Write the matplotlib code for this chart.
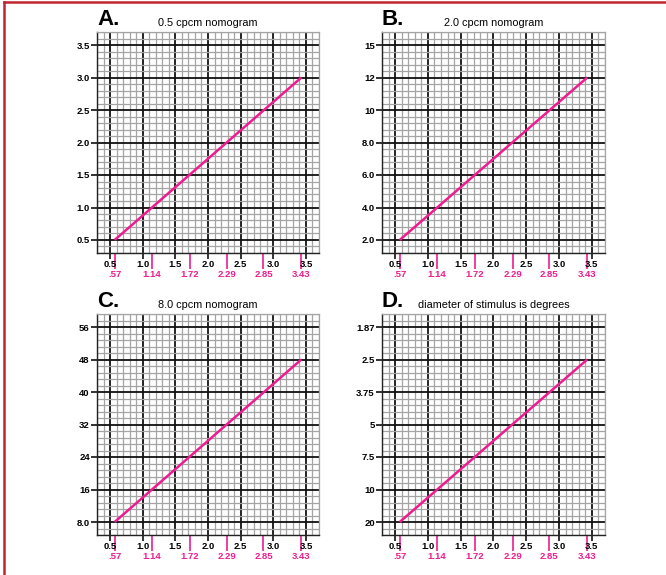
import matplotlib.pyplot as plt
import numpy as np
from matplotlib.lines import Line2D

plt.rcParams['font.family'] = ['Liberation Sans', 'DejaVu Sans']

# shared x axis (black scale and the pink scale under it)
x_ticks = [0.5, 1.0, 1.5, 2.0, 2.5, 3.0, 3.5]
x_labels = ['0.5', '1.0', '1.5', '2.0', '2.5', '3.0', '3.5']
pink_ticks = [0.57, 1.14, 1.72, 2.29, 2.85, 3.43]
pink_labels = ['.57', '1.14', '1.72', '2.29', '2.85', '3.43']

# panel letters and titles
letters = ['A.', 'B.', 'C.', 'D.']
titles = ['0.5 cpcm nomogram', '2.0 cpcm nomogram',
          '8.0 cpcm nomogram', 'diameter of stimulus is degrees']

# y scales of each panel
a_yticks = [0.5, 1.0, 1.5, 2.0, 2.5, 3.0, 3.5]
a_ylabels = ['0.5', '1.0', '1.5', '2.0', '2.5', '3.0', '3.5']
b_yticks = [2, 4, 6, 8, 10, 12, 14]
b_ylabels = ['2.0', '4.0', '6.0', '8.0', '10', '12', '15']
c_yticks = [8, 16, 24, 32, 40, 48, 56]
c_ylabels = ['8.0', '16', '24', '32', '40', '48', '56']
d_yticks = [0, 1, 2, 3, 4, 5, 6]
d_ylabels = ['20', '10', '7.5', '5', '3.75', '2.5', '1.87']

# nomogram lines: x from .57 to 3.43
line_x = [0.57, 3.43]
a_line = [0.5, 3.0]
b_line = [2, 12]
c_line = [8, 48]
d_line = [0, 5]   # from "20" to "2.5"

PINK = '#ee1c8e'

W, H = 666, 575
fig = plt.figure(figsize=(W / 100, H / 100), dpi=100)

# red frame, cut off on the right and bottom
fig.add_artist(Line2D([4 / W, 4 / W], [0, 1 - 2 / H], color='#c0262f', lw=1.8))
fig.add_artist(Line2D([4 / W, 1], [1 - 2 / H, 1 - 2 / H], color='#c0262f', lw=1.8))

# pixel boxes (left, right, top, bottom)
boxes = [(97, 319, 32, 253), (382, 605, 32, 253),
         (97, 319, 314, 535), (382, 605, 314, 535)]
yticks_all = [a_yticks, b_yticks, c_yticks, d_yticks]
ylabels_all = [a_ylabels, b_ylabels, c_ylabels, d_ylabels]
lines_all = [a_line, b_line, c_line, d_line]

for i in range(4):
    l, r, t, b = boxes[i]
    ax = fig.add_axes([l / W, 1 - b / H, (r - l) / W, (b - t) / H])
    yt = yticks_all[i]
    step = yt[1] - yt[0]
    ax.set_xlim(0.3, 3.7)
    ax.set_ylim(yt[0] - 0.4 * step, yt[-1] + 0.4 * step)

    ax.set_xticks(x_ticks, x_labels)
    ax.set_xticks(np.arange(0.3, 3.71, 0.1), minor=True)
    ax.set_yticks(yt, ylabels_all[i])
    ax.set_yticks(np.arange(yt[0] - 0.4 * step, yt[-1] + 0.41 * step, 0.2 * step), minor=True)

    ax.grid(which='minor', color='#a4a4a4', lw=0.9)
    ax.grid(which='major', color='#111111', lw=1.3)
    ax.set_axisbelow(True)
    ax.tick_params(which='minor', length=0)
    ax.tick_params(which='major', length=4, width=1.2, pad=1.2, labelsize=6.8, color='#111111')
    for lab in ax.get_xticklabels() + ax.get_yticklabels():
        lab.set_fontweight('bold')
    for s in ['top', 'right']:
        ax.spines[s].set_color('#a4a4a4')
        ax.spines[s].set_linewidth(0.9)
    for s in ['left', 'bottom']:
        ax.spines[s].set_color('#222222')
        ax.spines[s].set_linewidth(1.0)

    ax.plot(line_x, lines_all[i], color=PINK, lw=1.8, zorder=5, solid_capstyle='butt')

    sec = ax.secondary_xaxis('bottom')
    sec.set_xticks(pink_ticks, pink_labels)
    sec.tick_params(length=11.5, width=1.2, color=PINK, labelcolor=PINK, labelsize=6.8, pad=0.8)
    sec.spines['bottom'].set_visible(False)
    for lab in sec.get_xticklabels():
        lab.set_fontweight('bold')

    ax.text(0.0, 1.008, letters[i], transform=ax.transAxes, fontsize=16,
            fontweight='bold', ha='left', va='bottom')
    ax.text(0.5, 1.02, titles[i], transform=ax.transAxes, fontsize=7.8,
            ha='center', va='bottom')

fig.savefig('out.png', dpi=100)
